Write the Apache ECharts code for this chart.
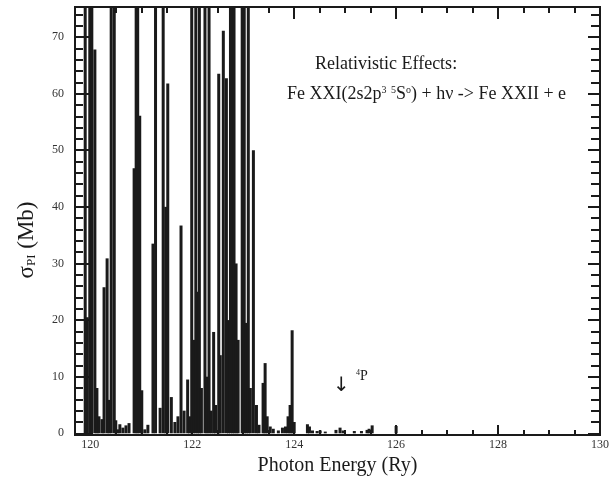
<!DOCTYPE html>
<html>
<head>
<meta charset="utf-8">
<script src="https://cdn.jsdelivr.net/npm/echarts@6/dist/echarts.min.js"></script>
<style>
  html, body { margin: 0; padding: 0; background: #fff; }
  #chart { width: 613px; height: 484px; }
</style>
</head>
<body>
<div id="chart"></div>
<script>
// photon energy (Ry) of each resonance peak, and its cross section (Mb)
// peaks drawn at 80 run off the top of the frame
const peakEnergy = [
  119.90, 119.94, 119.99, 120.03, 120.09, 120.13, 120.17, 120.23, 120.27, 120.33,
  120.37, 120.41, 120.47, 120.50, 120.54, 120.58, 120.64, 120.70, 120.76, 120.86,
  120.90, 120.93, 120.97, 121.01, 121.07, 121.13, 121.23, 121.28, 121.37, 121.43,
  121.48, 121.52, 121.59, 121.66, 121.72, 121.78, 121.84, 121.91, 121.95, 121.99,
  122.03, 122.07, 122.11, 122.14, 122.18, 122.25, 122.29, 122.33, 122.37, 122.42,
  122.46, 122.52, 122.55, 122.61, 122.67, 122.71, 122.75, 122.79, 122.82, 122.86,
  122.90, 122.98, 123.02, 123.06, 123.10, 123.14, 123.20, 123.26, 123.31, 123.39,
  123.43, 123.47, 123.53, 123.59, 123.69, 123.77, 123.83, 123.88, 123.92, 123.96,
  124.00, 124.26, 124.30, 124.36, 124.45, 124.51, 124.61, 124.82, 124.90, 124.96,
  125.18, 125.32, 125.43, 125.47, 125.53, 126.00
]
const peakSigma = [
  80, 20.5, 80, 80, 67.8, 8, 3, 2.5, 25.8, 30.9,
  5.9, 80, 80, 2.3, 0.7, 1.6, 1.0, 1.4, 1.8, 46.8,
  80, 80, 56.1, 7.6, 0.7, 1.5, 33.5, 80, 4.5, 80,
  40, 61.8, 6.4, 2, 3, 36.7, 4, 9.5, 3, 80,
  16.5, 80, 25, 80, 8, 80, 10, 80, 4, 17.9,
  5, 63.5, 13.8, 71.1, 62.7, 20, 80, 80, 80, 30,
  16.5, 80, 80, 19.5, 80, 8, 50, 5, 1.5, 8.9,
  12.4, 3, 1.2, 0.8, 0.5, 1, 1.2, 3, 5, 18.2,
  2, 1.6, 1.2, 0.5, 0.4, 0.5, 0.3, 0.6, 1.0, 0.5,
  0.4, 0.4, 0.6, 0.8, 1.4, 1.3
]

const xMajorTicks = [120, 122, 124, 126, 128, 130]
const xMinorTicks = [120.5, 121, 121.5, 122.5, 123, 123.5, 124.5, 125, 125.5, 126.5, 127, 127.5, 128.5, 129, 129.5]
const yMajorTicks = [0, 10, 20, 30, 40, 50, 60, 70]
const yMinorTicks = [2, 4, 6, 8, 12, 14, 16, 18, 22, 24, 26, 28, 32, 34, 36, 38, 42, 44, 46, 48, 52, 54, 56, 58, 62, 64, 66, 68, 72, 74]

const X_MIN = 119.7
const X_MAX = 130
const Y_MIN = -0.3
const Y_MAX = 75.3

const serif = '"Liberation Serif", "DejaVu Serif", serif'
const ink = '#1a1a1a'

function xAxis(position, ticks, len, opts = {}) {
  return {
    type: 'value',
    position,
    min: X_MIN,
    max: X_MAX,
    splitLine: { show: false },
    axisLine: { show: true, onZero: false, lineStyle: { color: ink, width: 2 } },
    axisTick: { show: true, inside: true, length: len, customValues: ticks, lineStyle: { color: ink, width: 2 } },
    axisLabel: { show: false },
    ...opts
  }
}

function yAxis(position, ticks, len, opts = {}) {
  return {
    type: 'value',
    position,
    min: Y_MIN,
    max: Y_MAX,
    splitLine: { show: false },
    axisLine: { show: true, onZero: false, lineStyle: { color: ink, width: 2 } },
    axisTick: { show: true, inside: true, length: len, customValues: ticks, lineStyle: { color: ink, width: 2 } },
    axisLabel: { show: false },
    ...opts
  }
}

const chart = echarts.init(document.getElementById('chart'))

chart.setOption({
  animation: false,
  backgroundColor: '#fff',
  grid: { left: 75, right: 13, top: 7, bottom: 49 },
  xAxis: [
    xAxis('bottom', xMajorTicks, 10, {
      name: 'Photon Energy (Ry)',
      nameLocation: 'middle',
      nameGap: 18,
      nameTextStyle: { fontFamily: serif, fontSize: 20, color: ink },
      axisLabel: {
        show: true,
        customValues: xMajorTicks,
        margin: 4,
        fontFamily: serif,
        fontSize: 12,
        color: '#333'
      }
    }),
    xAxis('bottom', xMinorTicks, 5),
    xAxis('top', xMajorTicks, 12),
    xAxis('top', xMinorTicks, 6)
  ],
  yAxis: [
    yAxis('left', yMajorTicks, 18, {
      axisLabel: {
        show: true,
        customValues: yMajorTicks,
        margin: 11,
        fontFamily: serif,
        fontSize: 12,
        color: '#333'
      }
    }),
    yAxis('left', yMinorTicks, 8),
    yAxis('right', yMajorTicks, 12),
    yAxis('right', yMinorTicks, 9)
  ],
  graphic: [
    {
      type: 'text',
      x: 27,
      y: 240,
      rotation: Math.PI / 2,
      style: {
        text: '{a|σ}{b|PI}{a| (Mb)}',
        align: 'center',
        verticalAlign: 'middle',
        rich: {
          a: { fontFamily: serif, fontSize: 23, fill: ink },
          b: { fontFamily: serif, fontSize: 13, fill: ink, verticalAlign: 'bottom', padding: [9, 0, 0, 0] }
        }
      }
    },
    {
      type: 'text',
      left: 315,
      top: 55,
      style: { text: 'Relativistic Effects:', font: '18px ' + serif, fill: ink }
    },
    {
      type: 'text',
      left: 287,
      top: 85,
      style: {
        text: 'Fe XXI(2s2p{sup|3} {sup|5}S{sup|o}) + hν -> Fe XXII + e',
        font: '18px ' + serif,
        fill: ink,
        rich: {
          sup: { fontFamily: serif, fontSize: 10, fill: ink, verticalAlign: 'top', padding: [0, 0, 9, 0] }
        }
      }
    },
    {
      type: 'text',
      left: 333,
      top: 376,
      style: { text: '↓', font: '20px "DejaVu Sans", sans-serif', fill: ink }
    },
    {
      type: 'text',
      left: 356,
      top: 369,
      style: {
        text: '{sup|4}P',
        font: '14px ' + serif,
        fill: ink,
        rich: { sup: { fontFamily: serif, fontSize: 8, fill: ink, verticalAlign: 'top', padding: [0, 0, 7, 0] } }
      }
    }
  ],
  series: [
    {
      type: 'bar',
      xAxisIndex: 0,
      yAxisIndex: 0,
      barWidth: 3,
      clip: true,
      itemStyle: { color: ink },
      data: peakEnergy.map((e, i) => [e, peakSigma[i]])
    }
  ]
})
</script>
</body>
</html>
